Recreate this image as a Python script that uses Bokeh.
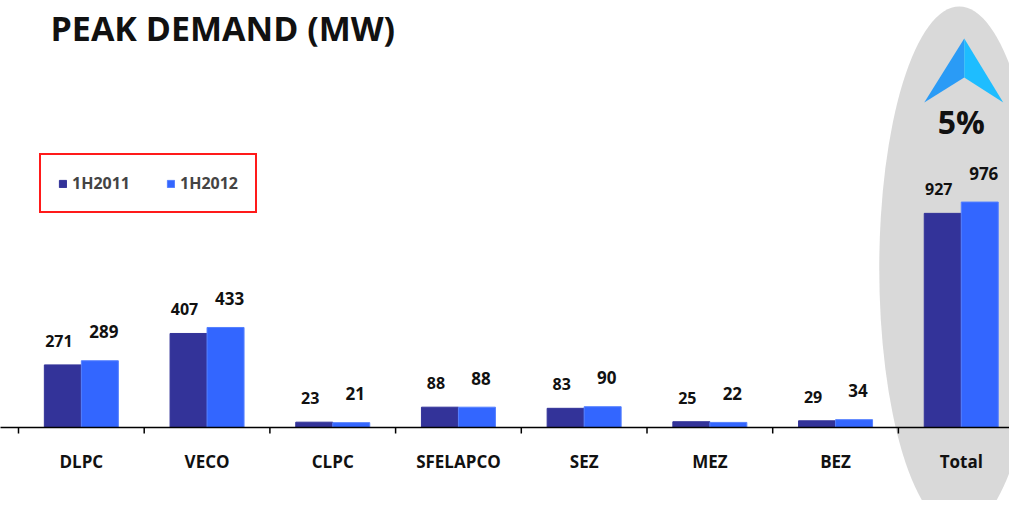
from bokeh.plotting import figure
from bokeh.models import Range1d, Label, Legend, LegendItem
from bokeh.core.properties import value
from bokeh.embed import file_html
from bokeh.resources import INLINE

# ---- data ----
categories = ["DLPC", "VECO", "CLPC", "SFELAPCO", "SEZ", "MEZ", "BEZ", "Total"]
h2011 = [271, 407, 23, 88, 83, 25, 29, 927]
h2012 = [289, 433, 21, 88, 90, 22, 34, 976]
series_names = ["1H2011", "1H2012"]
growth_label = "5%"
title_text = "PEAK DEMAND (MW)"

# ---- layout constants ----
W, H = 1009, 500
PX_CAT = 125.7          # pixels per category
PX_MW = 0.231           # pixels per MW
X0 = 18                 # canvas x of category axis start
BASE = 427              # canvas y of baseline

DARK = "#333399"
LIGHT = "#3366FF"
FONT = "Open Sans"


def dx(px):
    return px / PX_CAT


def dy(px):
    return px / PX_MW


def ydata(canvas_y):
    return (BASE - canvas_y) / PX_MW


p = figure(width=W, height=H, output_backend="svg", toolbar_location=None,
           x_axis_location=None, y_axis_location=None,
           x_range=Range1d(-X0 / PX_CAT, (W - X0) / PX_CAT),
           y_range=Range1d(-(H - BASE) / PX_MW, BASE / PX_MW),
           min_border=0)
p.grid.visible = False
p.outline_line_color = None
p.background_fill_color = "white"
p.border_fill_color = "white"

n = len(categories)
centers = [i + 0.5 for i in range(n)]
bw = dx(37)
x_a = [c - bw / 2 for c in centers]
x_b = [c + bw / 2 for c in centers]

# highlight ellipse around Total
tot = centers[-1]
p.ellipse(x=[tot - dx(2)], y=[ydata(268)], width=160, height=524,
          width_units="screen", height_units="screen",
          fill_color="#D9D9D9", line_color=None)

# bars
r1 = p.vbar(x=x_a, top=h2011, width=bw, bottom=0, fill_color=DARK, line_color=DARK)
r2 = p.vbar(x=x_b, top=h2012, width=bw, bottom=0, fill_color=LIGHT, line_color="#5580ff")

# baseline and tick marks at category boundaries
p.segment(x0=[-1], y0=[0], x1=[n + 1], y1=[0], line_color="black", line_width=1.5)
ticks = list(range(n + 1))
p.segment(x0=ticks, y0=[0] * len(ticks), x1=ticks, y1=[-dy(6)] * len(ticks),
          line_color="black", line_width=1.5)

# category labels
p.text(x=centers, y=[0] * n, text=categories, y_offset=34,
       text_align="center", text_baseline="middle",
       text_font=value(FONT), text_font_size="17px", text_font_style="bold",
       text_color="#111111")

# value labels
p.text(x=x_a, y=h2011, text=[str(v) for v in h2011], x_offset=-4, y_offset=-24,
       text_align="center", text_baseline="middle",
       text_font=value(FONT), text_font_size="16px", text_font_style="bold",
       text_color="#111111")
p.text(x=x_b, y=h2012, text=[str(v) for v in h2012], x_offset=4, y_offset=-29,
       text_align="center", text_baseline="middle",
       text_font=value(FONT), text_font_size="17px", text_font_style="bold",
       text_color="#111111")

# growth arrow
tip = (tot + dx(3), ydata(38))
left = (tot - dx(37), ydata(102))
notch = (tot + dx(3), ydata(77))
right = (tot + dx(42), ydata(102))
p.patch(x=[tip[0], left[0], notch[0]], y=[tip[1], left[1], notch[1]],
        fill_color="#2A9BF6", line_color=None)
p.patch(x=[tip[0], notch[0], right[0]], y=[tip[1], notch[1], right[1]],
        fill_color="#1EBDFF", line_color=None)
p.text(x=[tot], y=[ydata(121)], text=[growth_label], text_align="center",
       text_baseline="middle", text_font=value(FONT), text_font_size="32px",
       text_font_style="bold", text_color="#111111")

# title
p.add_layout(Label(x=50, y=H - 27, x_units="screen", y_units="screen",
                   text=title_text, text_font=FONT, text_font_size="34px",
                   text_font_style="bold", text_color="#111111",
                   text_baseline="alphabetic"))

legend = Legend(items=[LegendItem(label=series_names[0], renderers=[r1]),
                       LegendItem(label=series_names[1], renderers=[r2])],
                orientation="horizontal", location=(39, H - 213),
                border_line_color="#FF1A1A", border_line_width=2,
                border_line_alpha=1.0,
                background_fill_color="white", background_fill_alpha=1,
                glyph_width=9, glyph_height=9, label_height=17,
                label_text_font=FONT, label_text_font_size="16px",
                label_text_font_style="bold", label_standoff=5,
                padding=17, spacing=36, margin=0)
p.add_layout(legend)

open("out.html", "w").write(file_html(p, INLINE))
